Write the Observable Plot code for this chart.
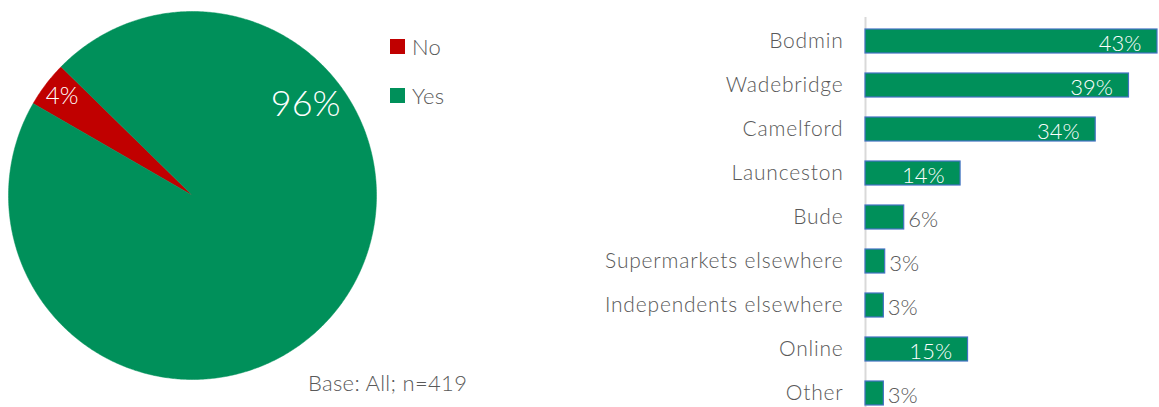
<!DOCTYPE html>
<html><head><meta charset="utf-8">
<script src="https://cdn.jsdelivr.net/npm/d3@7"></script>
<script src="https://cdn.jsdelivr.net/npm/@observablehq/plot@0.6"></script>
<style>
body{margin:0;background:#fff;font-family:Lato,"Open Sans",sans-serif;}
#wrap{position:relative;width:1159px;height:407px;overflow:hidden;background:#fff}
#pie{position:absolute;left:0;top:0}
#bars{position:absolute;left:580px;top:0}
#bars g[aria-label="y-axis tick label"] text{letter-spacing:0.8px}
.leg{position:absolute;left:390px;height:22px;font-size:22px;color:#595959;display:flex;align-items:center;font-weight:300;letter-spacing:0.3px}
.sw{width:15px;height:15px;margin-right:7px}
#base{position:absolute;left:308px;top:369px;font-size:22px;color:#595959;font-weight:300;white-space:nowrap;letter-spacing:0.3px}
</style></head><body>
<div id="wrap"><div id="pie"></div><div id="bars"></div><div id="base">Base: All; n=419</div></div>
<script>
// ---- data ----
const pieLabels = ["No", "Yes"];
const pieValues = [4, 96];
const pieColors = ["#C00000", "#00905A"];

const categories = ["Bodmin", "Wadebridge", "Camelford", "Launceston", "Bude",
  "Supermarkets elsewhere", "Independents elsewhere", "Online", "Other"];
const shares = [43.0, 38.8, 33.9, 14.0, 5.7, 2.9, 2.7, 15.1, 2.7];

// ---- pie (drawn with Plot line marks filled, in a unit coordinate system) ----
const rot = 300 * Math.PI / 180;
const arcs = d3.pie().sort(null).startAngle(rot).endAngle(rot + 2 * Math.PI)(pieValues);
const piePts = [];
arcs.forEach((a, i) => {
  const lab = pieLabels[i];
  piePts.push({label: lab, x: 0, y: 0});
  const n = Math.max(2, Math.ceil((a.endAngle - a.startAngle) / (Math.PI / 360)));
  for (let k = 0; k <= n; k++) {
    const t = a.startAngle + (a.endAngle - a.startAngle) * k / n;
    piePts.push({label: lab, x: Math.sin(t), y: Math.cos(t)});
  }
  piePts.push({label: lab, x: 0, y: 0});
});
const placement = [{f: 0.5, r: 0.89, size: 24}, {f: 0.28, r: 0.79, size: 35}];
const pieText = arcs.map((a, i) => {
  const t = a.startAngle + (a.endAngle - a.startAngle) * placement[i].f;
  return {label: pieLabels[i], text: Math.round(pieValues[i]) + "%",
    x: placement[i].r * Math.sin(t), y: placement[i].r * Math.cos(t), size: placement[i].size};
});

const pie = Plot.plot({
  width: 580, height: 407, margin: 0,
  style: {fontFamily: "Lato, 'Open Sans', sans-serif", fontWeight: 300, background: "transparent"},
  x: {domain: [-1, 1], range: [8, 376], axis: null},
  y: {domain: [-1, 1], range: [379, 11], axis: null},
  color: {domain: pieLabels, range: pieColors},
  marks: [
    Plot.line(piePts, {x: "x", y: "y", z: "label", fill: "label", stroke: "label", strokeWidth: 0.5}),
    Plot.text(pieText.filter(d => d.size < 30), {x: "x", y: "y", text: "text", fill: "white", fontSize: 24}),
    Plot.text(pieText.filter(d => d.size >= 30), {x: "x", y: "y", text: "text", fill: "white", fontSize: 36})
  ]
});
document.getElementById("pie").appendChild(pie);

// legend (HTML)
const wrap = document.getElementById("wrap");
pieLabels.forEach((l, i) => {
  const d = document.createElement("div");
  d.className = "leg";
  d.style.top = (35 + i * 49) + "px";
  d.innerHTML = `<span class="sw" style="background:${pieColors[i]}"></span>${l}`;
  wrap.appendChild(d);
});

// ---- bar chart ----
const rows = categories.map((c, i) => ({cat: c, value: shares[i], text: Math.round(shares[i]) + "%"}));
const bars = Plot.plot({
  width: 579, height: 407, marginTop: 17, marginBottom: 0, marginLeft: 285, marginRight: 2,
  style: {fontFamily: "Lato, 'Open Sans', sans-serif", fontWeight: 300, color: "#595959", background: "transparent"},
  x: {domain: [0, 43], axis: null},
  y: {domain: categories, range: [18, 416], paddingInner: 0.46, paddingOuter: 0.23, label: null},
  marks: [
    Plot.ruleX([0], {stroke: "#d9d9d9", strokeWidth: 2}),
    Plot.barX(rows, {x: "value", y: "cat", fill: "#00905A", stroke: "#4472C4", strokeWidth: 1.2}),
    Plot.text(rows.filter(d => d.value >= 10), {x: "value", y: "cat", text: "text", textAnchor: "end", dx: -16, dy: 2, fill: "white", fontSize: 22}),
    Plot.text(rows.filter(d => d.value < 10), {x: "value", y: "cat", text: "text", textAnchor: "start", dx: 4, dy: 2, fill: "#595959", fontSize: 22}),
    Plot.axisY({tickSize: 0, tickPadding: 22, fontSize: 21, label: null})
  ]
});
document.getElementById("bars").appendChild(bars);
</script>
</body></html>
